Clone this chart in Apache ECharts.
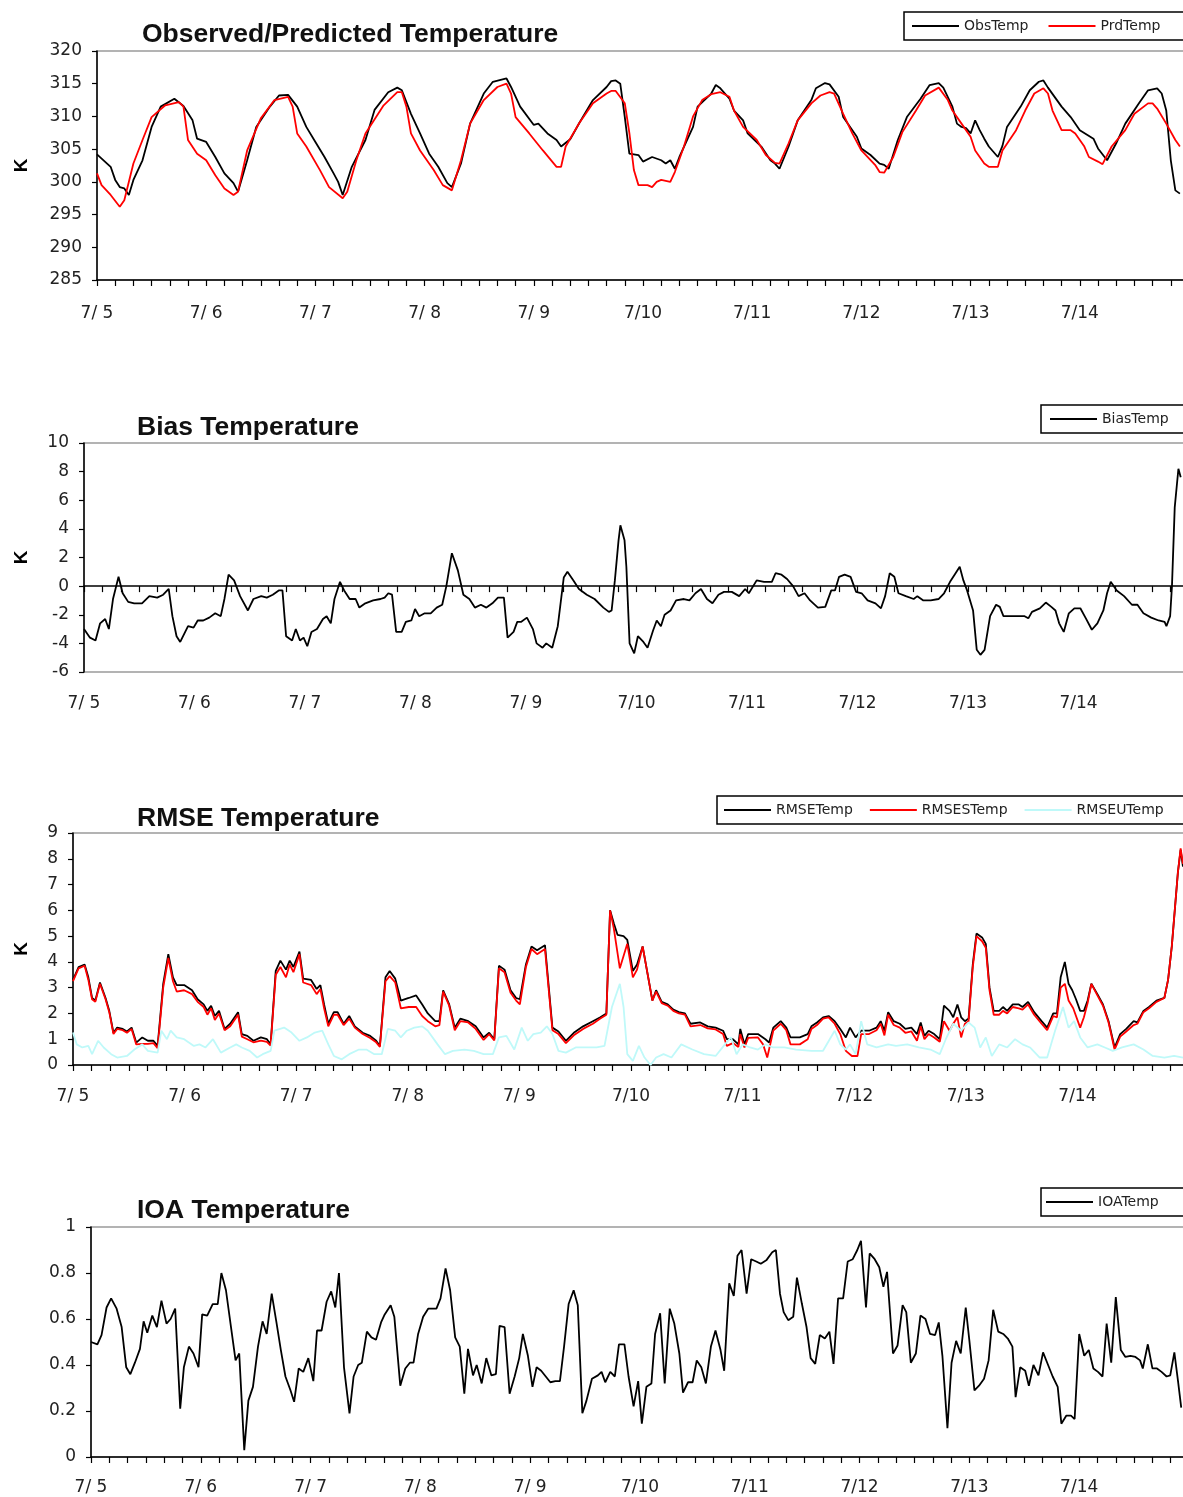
<!DOCTYPE html>
<html>
<head>
<meta charset="utf-8">
<title>Temperature evaluation</title>
<script src="https://cdn.jsdelivr.net/npm/echarts@6.0.0/dist/echarts.min.js"></script>
<style>
  html, body { margin: 0; padding: 0; background: #fff; overflow: hidden; }
  #chart { width: 1320px; height: 1497px; }
</style>
</head>
<body>
<div id="chart"></div>
<script>
// Day labels along the time axes (hours since 7/5 00:00, one label per 24 h)
const dayLabels = ['7/ 5', '7/ 6', '7/ 7', '7/ 8', '7/ 9', '7/10', '7/11', '7/12', '7/13', '7/14', '7/15'];

// Observed and predicted temperature [hour, K]
const obsTemp = [[0,304.2],[3,302.3],[4,300.3],[5,299.2],[6,299.0],[7,298.0],[8,300.3],[10,303.3],[12,308.4],[14,311.5],[17,312.7],[19,311.6],[21,309.4],[22,306.6],[24,306.1],[26,303.8],[28,301.3],[30,299.8],[31,298.5],[33,303.3],[35,308.4],[38,311.5],[40,313.2],[42,313.3],[44,311.5],[46,308.4],[48,306.1],[50,303.8],[52,301.3],[53,300.0],[54,298.0],[56,302.3],[59,306.4],[61,311.0],[64,313.7],[66,314.4],[67,314.0],[69,310.4],[71,307.4],[73,304.3],[75,302.3],[77,299.8],[78,299.2],[80,302.8],[82,308.9],[85,313.5],[87,315.3],[90,315.8],[91,314.5],[93,311.5],[96,308.7],[97,308.9],[99,307.4],[101,306.4],[102,305.4],[104,306.5],[106,309.0],[109,312.5],[112,314.5],[113,315.4],[114,315.5],[115,315.0],[116,309.9],[117,304.3],[119,304.1],[120,303.1],[122,303.8],[124,303.3],[125,302.8],[126,303.3],[127,302.0],[128,303.8],[131,308.4],[132,311.5],[135,313.5],[136,314.8],[137,314.3],[139,312.7],[140,310.9],[142,309.4],[143,307.4],[146,305.4],[148,303.3],[149,302.8],[150,302.0],[152,305.4],[154,309.4],[157,312.5],[158,314.3],[160,315.1],[161,314.9],[163,313.0],[164,309.9],[167,306.9],[168,305.1],[170,304.1],[172,302.8],[173,302.6],[174,302.0],[176,306.4],[178,309.9],[181,312.7],[183,314.8],[185,315.1],[186,314.4],[188,311.5],[189,308.9],[190,308.4],[191,308.2],[192,307.4],[193,309.4],[194,307.9],[195,306.6],[196,305.4],[197,304.6],[198,303.8],[199,305.5],[200,308.4],[203,311.5],[205,314.0],[207,315.3],[208,315.5],[209,314.4],[212,311.5],[214,309.9],[216,307.9],[219,306.6],[220,305.1],[222,303.3],[224,305.9],[226,308.9],[229,312.0],[231,314.0],[233,314.3],[234,313.5],[235,310.9],[236,303.3],[237,298.7],[238,298.2]];
const prdTemp = [[0,301.3],[1,299.5],[3,298.0],[5,296.2],[6,297.2],[8,302.8],[10,306.4],[12,309.9],[15,311.7],[18,312.2],[19,311.5],[20,306.4],[22,304.3],[24,303.3],[26,301.0],[28,299.0],[30,298.0],[31,298.5],[33,304.8],[36,309.7],[39,312.5],[42,313.0],[43,311.5],[44,307.4],[46,305.4],[49,301.8],[51,299.2],[54,297.5],[55,298.5],[57,303.3],[59,307.4],[63,311.7],[66,313.7],[67,313.7],[68,311.5],[69,307.4],[71,304.8],[74,301.8],[76,299.5],[78,298.7],[80,303.3],[82,308.9],[85,312.5],[88,314.5],[90,315.0],[91,313.5],[92,309.9],[95,307.4],[98,304.8],[101,302.3],[102,302.3],[103,305.4],[106,309.0],[109,312.0],[112,313.5],[113,313.9],[114,313.9],[116,312.0],[117,307.5],[118,301.8],[119,299.5],[120,299.5],[121,299.5],[122,299.2],[123,300.0],[124,300.3],[126,300.0],[127,301.5],[129,305.4],[131,310.0],[133,312.5],[135,313.4],[137,313.7],[139,313.0],[140,310.9],[142,308.4],[145,306.4],[147,304.1],[149,302.9],[150,302.8],[152,305.9],[154,309.4],[157,312.0],[159,313.2],[161,313.7],[162,313.5],[164,310.4],[166,307.4],[168,304.8],[171,302.6],[172,301.5],[173,301.4],[175,303.8],[177,307.6],[180,310.9],[182,313.2],[185,314.4],[187,312.5],[188,310.9],[190,308.9],[192,306.9],[193,304.8],[195,302.8],[196,302.3],[198,302.3],[199,304.8],[202,307.9],[204,310.9],[206,313.5],[208,314.3],[209,313.5],[210,310.9],[212,307.9],[214,307.9],[215,307.4],[217,305.4],[218,303.8],[220,303.1],[221,302.7],[223,305.4],[226,307.9],[228,310.4],[231,312.0],[232,312.0],[233,311.2],[235,308.9],[237,306.4],[238,305.4]];

// Bias [hour, K]
const biasTemp = [[0,-3.0],[1.3,-3.6],[2.5,-3.8],[3.5,-2.6],[4.6,-2.3],[5.4,-3.0],[6.3,-0.9],[7.5,0.65],[8.4,-0.5],[9.6,-1.1],[10.9,-1.2],[12.6,-1.2],[14.2,-0.7],[15.9,-0.8],[17.2,-0.6],[18.4,-0.2],[19.2,-2.1],[20.1,-3.5],[20.9,-3.9],[22.6,-2.8],[23.8,-2.9],[24.7,-2.4],[25.9,-2.4],[27.2,-2.2],[28.5,-1.9],[29.7,-2.1],[30.5,-0.9],[31.4,0.8],[32.6,0.4],[33.9,-0.7],[35.6,-1.7],[36.8,-0.9],[38.5,-0.7],[39.7,-0.8],[41,-0.6],[42.3,-0.3],[43.1,-0.3],[43.9,-3.5],[45.2,-3.8],[46,-3.0],[46.9,-3.8],[47.7,-3.6],[48.5,-4.2],[49.4,-3.2],[50.6,-3.0],[51.9,-2.3],[52.7,-2.1],[53.6,-2.6],[54.4,-0.9],[55.6,0.3],[56.5,-0.3],[57.7,-0.9],[59,-0.9],[59.8,-1.5],[61.1,-1.2],[62.8,-1.0],[64.4,-0.9],[65.3,-0.8],[66.1,-0.5],[66.9,-0.6],[67.8,-3.2],[69,-3.2],[69.9,-2.5],[71.1,-2.4],[71.9,-1.6],[72.8,-2.1],[74,-1.9],[75.3,-1.9],[76.6,-1.5],[77.8,-1.3],[78.7,0.0],[79.9,2.3],[81.2,1.1],[82.4,-0.6],[83.7,-0.9],[84.9,-1.5],[86.2,-1.3],[87.4,-1.5],[88.7,-1.2],[89.9,-0.8],[91.2,-0.8],[92,-3.6],[93.3,-3.2],[94.1,-2.5],[94.9,-2.5],[96.2,-2.2],[97.5,-3.0],[98.3,-4.0],[99.6,-4.3],[100.4,-4.0],[101.7,-4.3],[102.9,-2.8],[104.2,0.6],[105,1.0],[106.3,0.4],[107.5,-0.2],[109.2,-0.6],[110.9,-0.9],[112.8,-1.5],[114,-1.8],[114.6,-1.7],[115.3,0.4],[116.1,3.2],[116.5,4.25],[117.4,3.2],[117.8,1.35],[118.5,-4.0],[119.5,-4.7],[120.3,-3.5],[121.5,-3.9],[122.4,-4.3],[123.6,-3.1],[124.4,-2.4],[125.3,-2.8],[126.1,-2.0],[127.4,-1.7],[128.6,-1.0],[130.3,-0.9],[131.5,-1.0],[132.8,-0.5],[134,-0.2],[135.3,-0.9],[136.5,-1.2],[137.8,-0.6],[139,-0.4],[140.7,-0.4],[142.3,-0.7],[143.6,-0.2],[144.4,-0.5],[146.1,0.4],[147.7,0.3],[149.4,0.3],[150.2,0.9],[151.5,0.8],[152.7,0.5],[154,0.0],[155.2,-0.7],[156.5,-0.5],[157.7,-1.0],[159.4,-1.5],[161,-1.45],[162.3,-0.3],[163.1,-0.3],[164,0.65],[165.2,0.8],[166.5,0.65],[167.7,-0.4],[168.9,-0.5],[170.2,-1.0],[171.9,-1.2],[173.1,-1.55],[174,-0.7],[175,0.9],[176,0.65],[176.9,-0.5],[178.5,-0.7],[180.2,-0.9],[181,-0.7],[182.3,-1.0],[183.9,-1.0],[185.6,-0.9],[186.8,-0.5],[188.1,0.3],[189.3,0.9],[190.2,1.35],[191,0.4],[191.8,-0.3],[193.1,-1.7],[193.9,-4.45],[194.7,-4.8],[195.6,-4.45],[196.8,-2.1],[198.1,-1.3],[198.9,-1.45],[199.7,-2.1],[201,-2.1],[202.6,-2.1],[204.3,-2.1],[205.1,-2.25],[205.9,-1.8],[207.6,-1.55],[208.9,-1.15],[210.1,-1.45],[211,-1.7],[211.8,-2.6],[212.8,-3.2],[213.9,-1.9],[215.1,-1.55],[216.4,-1.55],[217.6,-2.25],[218.9,-3.05],[220.1,-2.6],[221.4,-1.7],[222.2,-0.5],[223,0.3],[224.3,-0.3],[225.9,-0.7],[227.6,-1.3],[228.8,-1.3],[230.1,-1.9],[231.8,-2.2],[233.4,-2.4],[234.7,-2.5],[235.1,-2.8],[235.9,-2.1],[236.3,0.0],[236.9,5.5],[237.7,8.2],[238.2,7.6]];

// RMSE, systematic and unsystematic RMSE [hour, K]
const rmseTemp = [[0,3.3],[1.2,3.8],[2.5,3.9],[3.3,3.4],[4.1,2.6],[4.8,2.5],[5.8,3.2],[7,2.6],[7.8,2.1],[8.7,1.25],[9.5,1.45],[10.7,1.4],[11.6,1.3],[12.6,1.45],[13.6,0.87],[14.9,1.07],[16.1,0.94],[17.3,0.94],[18.2,0.74],[19.4,3.15],[20.5,4.3],[21.5,3.4],[22.3,3.1],[23.9,3.1],[25.6,2.9],[26.8,2.55],[28.1,2.35],[28.9,2.1],[29.7,2.3],[30.5,1.9],[31.4,2.1],[32.6,1.4],[33.8,1.6],[35.5,2.05],[36.3,1.2],[37.5,1.13],[38.8,0.94],[40.4,1.07],[41.7,1.0],[42.5,0.8],[43.6,3.65],[44.6,4.05],[45.8,3.7],[46.6,4.05],[47.4,3.8],[48.7,4.4],[49.5,3.35],[51.2,3.3],[52.4,2.95],[53.2,3.1],[54,2.35],[54.9,1.6],[56.1,2.05],[56.9,2.05],[58.2,1.6],[59.4,1.9],[60.6,1.5],[62.3,1.25],[63.9,1.13],[65.2,0.94],[66,0.74],[67.2,3.4],[68.1,3.65],[69.3,3.35],[70.5,2.5],[72.2,2.6],[73.8,2.7],[75.1,2.35],[76.3,2.0],[77.9,1.7],[78.8,1.7],[79.6,2.9],[80.9,2.35],[82.1,1.45],[83.3,1.8],[85,1.7],[86.6,1.5],[88.3,1.07],[89.5,1.25],[90.6,1.0],[91.6,3.85],[92.8,3.7],[94.1,2.9],[95.3,2.6],[96.1,2.55],[97.4,3.9],[98.6,4.6],[99.8,4.45],[101.5,4.65],[103.1,1.45],[104.4,1.3],[106,0.94],[107.7,1.25],[109.7,1.5],[111.8,1.7],[113.4,1.85],[114.7,2.0],[115.5,6.0],[116.3,5.5],[117.1,5.05],[118.4,5.0],[119.2,4.85],[120.4,3.65],[121.3,3.9],[122.5,4.6],[123.7,3.4],[124.6,2.5],[125.4,2.9],[126.6,2.45],[127.9,2.35],[129.1,2.15],[130.3,2.05],[131.6,2.0],[132.8,1.6],[134.9,1.65],[136.5,1.5],[138.2,1.45],[139.8,1.33],[140.6,1.0],[141.9,1.0],[143.1,0.8],[143.5,1.4],[144.4,0.8],[145.2,1.2],[147.3,1.2],[148.9,1.0],[149.7,0.87],[150.6,1.45],[152.2,1.7],[153.4,1.45],[154.3,1.07],[156.3,1.07],[158,1.2],[158.8,1.5],[160,1.65],[161.3,1.85],[162.5,1.9],[163.8,1.7],[165,1.4],[166.2,1.07],[167.1,1.45],[168.3,1.07],[169.5,1.33],[171.2,1.33],[172.8,1.45],[173.7,1.7],[174.5,1.33],[175.3,2.05],[176.5,1.7],[177.8,1.6],[179,1.4],[180.3,1.45],[181.5,1.2],[182.3,1.65],[183.1,1.13],[184,1.33],[185.2,1.2],[186.4,1.0],[187.3,2.3],[188.5,2.1],[189.3,1.85],[190.2,2.35],[191,1.85],[191.8,1.7],[192.6,1.8],[193.5,3.9],[194.3,5.1],[195.5,4.95],[196.3,4.7],[197.1,3.0],[198,2.1],[199.2,2.1],[200,2.25],[200.9,2.1],[202.1,2.35],[203.4,2.35],[204.2,2.25],[205.4,2.45],[206.7,2.05],[208.3,1.7],[209.5,1.45],[210.8,2.0],[211.6,2.0],[212.4,3.4],[213.3,4.0],[214.1,3.15],[214.9,2.9],[215.7,2.55],[216.6,2.1],[217.4,2.1],[218.2,2.5],[219,3.15],[220.3,2.75],[221.5,2.35],[222.7,1.7],[224,0.68],[225.2,1.2],[226.5,1.4],[228.1,1.7],[228.9,1.65],[230.2,2.1],[231.4,2.25],[233,2.5],[234.7,2.6],[235.5,3.3],[236.3,4.6],[237.6,7.45],[238.2,8.35],[238.7,7.7]];
const rmsesTemp = [[0,3.25],[1.2,3.75],[2.5,3.85],[3.3,3.3],[4.1,2.55],[4.8,2.45],[5.8,3.15],[7,2.55],[7.8,2.05],[8.7,1.2],[9.5,1.4],[10.7,1.35],[11.6,1.25],[12.6,1.4],[13.6,0.8],[14.9,0.82],[16.1,0.82],[17.3,0.85],[18.2,0.65],[19.4,3.0],[20.5,4.15],[21.5,3.25],[22.3,2.85],[23.9,2.9],[25.6,2.75],[26.8,2.45],[28.1,2.25],[28.9,1.95],[29.7,2.2],[30.5,1.75],[31.4,2.0],[32.6,1.35],[33.8,1.5],[35.5,1.95],[36.3,1.1],[37.5,1.0],[38.8,0.88],[40.4,0.95],[41.7,0.9],[42.5,0.75],[43.6,3.5],[44.6,3.8],[45.8,3.4],[46.6,3.9],[47.4,3.6],[48.7,4.3],[49.5,3.2],[51.2,3.1],[52.4,2.75],[53.2,2.95],[54,2.2],[54.9,1.5],[56.1,1.95],[56.9,1.95],[58.2,1.55],[59.4,1.8],[60.6,1.45],[62.3,1.2],[63.9,1.05],[65.2,0.88],[66,0.7],[67.2,3.25],[68.1,3.45],[69.3,3.2],[70.5,2.2],[72.2,2.25],[73.8,2.25],[75.1,1.9],[76.3,1.7],[77.9,1.5],[78.8,1.55],[79.6,2.85],[80.9,2.3],[82.1,1.35],[83.3,1.7],[85,1.65],[86.6,1.4],[88.3,0.97],[89.5,1.2],[90.6,0.95],[91.6,3.75],[92.8,3.6],[94.1,2.8],[95.3,2.5],[96.1,2.35],[97.4,3.8],[98.6,4.5],[99.8,4.3],[101.5,4.5],[103.1,1.35],[104.4,1.2],[106,0.85],[107.7,1.15],[109.7,1.4],[111.8,1.6],[113.4,1.8],[114.7,1.95],[115.5,6.0],[116.3,5.3],[117.6,3.75],[119.2,4.7],[120.4,3.4],[121.3,3.7],[122.5,4.6],[123.7,3.4],[124.6,2.5],[125.4,2.85],[126.6,2.4],[127.9,2.3],[129.1,2.1],[130.3,2.0],[131.6,1.95],[132.8,1.5],[134.9,1.55],[136.5,1.42],[138.2,1.38],[139.8,1.2],[140.6,0.74],[141.9,0.85],[143.1,0.7],[143.5,1.2],[144.4,0.68],[145.2,1.05],[147.3,1.07],[148.4,0.8],[149.3,0.29],[150.6,1.33],[152.2,1.6],[153.4,1.35],[154.3,0.8],[156.3,0.8],[158,1.0],[158.8,1.4],[160,1.55],[161.3,1.8],[162.5,1.85],[163.8,1.6],[165,1.2],[166.2,0.55],[167.5,0.35],[168.7,0.35],[169.5,1.2],[171.2,1.2],[172.8,1.35],[173.7,1.6],[174.5,1.15],[175.3,1.95],[176.5,1.55],[177.8,1.45],[179,1.25],[180.3,1.3],[181.5,0.94],[182.3,1.5],[183.1,1.0],[184,1.2],[185.2,1.07],[186.4,0.9],[187.3,1.7],[188.5,1.33],[189.3,1.6],[190.2,1.85],[191,1.07],[191.8,1.6],[192.6,1.7],[193.5,3.8],[194.3,5.0],[195.5,4.8],[196.3,4.55],[197.1,2.9],[198,1.95],[199.2,1.95],[200,2.1],[200.9,2.0],[202.1,2.25],[203.4,2.2],[204.2,2.15],[205.4,2.35],[206.7,1.95],[208.3,1.6],[209.5,1.35],[210.8,1.9],[211.6,1.85],[212.4,3.0],[213.3,3.15],[214.1,2.5],[215.1,2.2],[216.6,1.45],[217.4,1.85],[218.2,2.4],[219,3.15],[220.3,2.7],[221.5,2.3],[222.7,1.65],[224,0.6],[225.2,1.1],[226.5,1.3],[228.1,1.55],[228.9,1.6],[230.2,2.05],[231.4,2.2],[233,2.45],[234.7,2.6],[235.5,3.3],[236.3,4.6],[237.6,7.45],[238.2,8.4],[238.7,7.8]];
const rmseuTemp = [[0,1.26],[0.8,0.8],[2,0.68],[3.3,0.74],[4.1,0.42],[5.4,0.94],[6.6,0.68],[8.2,0.42],[9.5,0.29],[11.6,0.35],[13.2,0.6],[14.9,0.8],[16.1,0.55],[18.2,0.48],[19,1.33],[20.2,1.0],[21,1.33],[22.3,1.07],[23.9,1.0],[26,0.74],[27.2,0.8],[28.5,0.68],[30.1,1.0],[31.8,0.48],[33.8,0.68],[35.1,0.8],[36.3,0.68],[38,0.55],[39.6,0.29],[40.8,0.42],[42.5,0.55],[43.3,1.33],[45.4,1.45],[47,1.26],[48.7,0.94],[50.3,1.07],[52,1.26],[53.6,1.33],[54.9,0.8],[56.1,0.35],[57.8,0.22],[59.4,0.42],[61.5,0.6],[63.1,0.6],[64.8,0.42],[66.4,0.42],[67.7,1.4],[69.3,1.33],[70.5,1.07],[71.8,1.33],[73.4,1.45],[75.1,1.5],[76.3,1.33],[78.4,0.8],[80,0.42],[81.7,0.55],[84.2,0.6],[86.2,0.55],[88.3,0.42],[90.3,0.42],[91.6,1.07],[93.2,1.13],[94.9,0.6],[96.5,1.45],[97.8,0.94],[99,1.2],[100.6,1.26],[101.9,1.5],[103.1,1.2],[104.4,0.55],[106,0.48],[108.1,0.68],[110.6,0.68],[112.6,0.68],[114.3,0.74],[115.9,2.25],[117.6,3.15],[118.4,2.25],[119.2,0.42],[120.4,0.16],[121.7,0.74],[122.9,0.29],[124.2,0.0],[125.4,0.29],[127,0.42],[128.7,0.29],[130.8,0.8],[133.2,0.6],[135.7,0.42],[138.2,0.35],[140.2,0.8],[141.5,1.07],[142.7,0.42],[144,0.8],[145.6,0.68],[147.3,0.6],[148.9,0.8],[150.6,0.68],[153,0.68],[155.5,0.6],[158.8,0.55],[161.3,0.55],[163.8,1.33],[165,0.8],[166.2,0.6],[167.1,0.8],[168.3,0.42],[169.5,1.7],[170.8,0.8],[172.8,0.68],[175.3,0.8],[177,0.74],[179.4,0.8],[181.9,0.68],[184.4,0.6],[186.4,0.42],[187.7,1.0],[189.3,1.6],[191,1.33],[192.6,1.65],[193.9,1.45],[195.1,0.68],[196.3,1.07],[197.6,0.35],[199.2,0.8],[200.9,0.68],[202.6,1.0],[204.2,0.8],[205.8,0.68],[207.9,0.29],[209.5,0.29],[211.2,1.33],[212.9,2.25],[214.1,1.45],[215.3,1.7],[216.6,1.07],[218.2,0.68],[220.3,0.8],[221.9,0.68],[223.6,0.55],[225.6,0.68],[228.1,0.8],[230.2,0.6],[232.2,0.35],[234.7,0.29],[236.8,0.35],[238.7,0.29]];

// Index of agreement [hour, dimensionless]
const ioaTemp = [[0,0.5],[1.4,0.49],[2.3,0.53],[3.4,0.65],[4.4,0.69],[5.6,0.645],[6.7,0.565],[7.7,0.39],[8.6,0.36],[9.6,0.41],[10.7,0.47],[11.5,0.59],[12.3,0.54],[13.4,0.615],[14.4,0.565],[15.4,0.68],[16.5,0.58],[17.4,0.6],[18.4,0.645],[19.5,0.21],[20.3,0.39],[21.4,0.48],[22.4,0.45],[23.5,0.39],[24.3,0.62],[25.4,0.615],[26.6,0.665],[27.7,0.665],[28.5,0.8],[29.5,0.725],[30.6,0.565],[31.6,0.42],[32.4,0.45],[33.5,0.03],[34.4,0.245],[35.4,0.305],[36.5,0.48],[37.5,0.59],[38.4,0.535],[39.5,0.71],[40.5,0.59],[41.5,0.465],[42.5,0.35],[43.6,0.29],[44.4,0.24],[45.4,0.385],[46.4,0.37],[47.5,0.43],[48.6,0.33],[49.4,0.55],[50.4,0.55],[51.5,0.675],[52.5,0.72],[53.4,0.65],[54.2,0.8],[55.3,0.39],[56.5,0.19],[57.4,0.35],[58.4,0.4],[59.2,0.41],[60.3,0.545],[61.3,0.52],[62.3,0.51],[63.4,0.585],[64.2,0.62],[65.5,0.66],[66.3,0.61],[67.6,0.31],[68.7,0.385],[69.7,0.41],[70.5,0.41],[71.5,0.535],[72.6,0.61],[73.7,0.645],[74.7,0.645],[75.5,0.645],[76.4,0.69],[77.5,0.82],[78.5,0.725],[79.6,0.52],[80.6,0.48],[81.6,0.275],[82.4,0.47],[83.5,0.355],[84.3,0.4],[85.4,0.32],[86.4,0.43],[87.5,0.355],[88.5,0.36],[89.3,0.57],[90.4,0.565],[91.5,0.275],[92.6,0.35],[93.6,0.43],[94.4,0.535],[95.5,0.44],[96.5,0.305],[97.4,0.39],[98.4,0.375],[99.4,0.35],[100.4,0.325],[101.5,0.33],[102.5,0.33],[103.4,0.48],[104.4,0.665],[105.5,0.725],[106.4,0.66],[107.4,0.19],[108.3,0.245],[109.5,0.34],[110.8,0.355],[111.6,0.37],[112.4,0.325],[113.5,0.37],[114.5,0.35],[115.4,0.49],[116.6,0.49],[117.5,0.35],[118.6,0.22],[119.6,0.33],[120.4,0.145],[121.4,0.305],[122.5,0.32],[123.3,0.535],[124.4,0.625],[125.4,0.32],[126.5,0.645],[127.5,0.58],[128.6,0.45],[129.4,0.28],[130.5,0.325],[131.5,0.325],[132.4,0.42],[133.4,0.39],[134.4,0.32],[135.5,0.48],[136.5,0.55],[137.6,0.465],[138.4,0.375],[139.5,0.755],[140.5,0.7],[141.3,0.875],[142.2,0.9],[143.3,0.71],[144.3,0.86],[145.4,0.85],[146.4,0.84],[147.6,0.855],[148.9,0.89],[149.7,0.9],[150.6,0.71],[151.4,0.63],[152.4,0.595],[153.5,0.61],[154.3,0.78],[155.4,0.665],[156.4,0.565],[157.3,0.43],[158.3,0.405],[159.3,0.53],[160.4,0.515],[161.4,0.545],[162.3,0.405],[163.3,0.69],[164.4,0.69],[165.4,0.85],[166.5,0.86],[167.5,0.9],[168.3,0.94],[169.4,0.65],[170.2,0.885],[171.3,0.86],[172.3,0.825],[173.2,0.74],[174,0.805],[175.3,0.45],[176.3,0.485],[177.4,0.66],[178.2,0.63],[179.2,0.41],[180.3,0.45],[181.3,0.615],[182.4,0.6],[183.4,0.535],[184.5,0.53],[185.3,0.585],[186.1,0.44],[187.2,0.125],[188.1,0.41],[189.1,0.505],[190.1,0.45],[191.2,0.65],[192,0.505],[193.1,0.29],[194.1,0.31],[195.2,0.34],[196.2,0.42],[197.2,0.64],[198.3,0.545],[199.4,0.535],[200.4,0.515],[201.4,0.48],[202.1,0.26],[203.1,0.39],[204.2,0.375],[205,0.31],[206,0.4],[207.1,0.355],[208.1,0.455],[209.2,0.4],[210.2,0.35],[211.3,0.305],[212.1,0.145],[213.2,0.18],[214.2,0.18],[215,0.165],[216,0.535],[217.1,0.44],[218.1,0.465],[219.1,0.385],[220.1,0.37],[221.1,0.35],[222,0.58],[223,0.41],[224,0.695],[225.1,0.465],[226.1,0.435],[227.2,0.44],[228.3,0.435],[229.3,0.42],[229.9,0.385],[231,0.49],[232,0.385],[233,0.385],[234,0.37],[235.1,0.35],[235.9,0.355],[236.8,0.455],[237.6,0.33],[238.3,0.215]];

// ---------------------------------------------------------------------------
const LABEL_FONT = 'DejaVu Sans';
const TITLE_FONT = '"Liberation Sans", Arial, sans-serif';
const HOURS_END = 240;
const PLOT_RIGHT = 1189;

// Panel geometry (pixels)
const panels = [
  { left: 97, top: 51, bottom: 280, labelMargin: 25, titleLeft: 142, titleTop: 21, legendLeft: 904, legendTop: 12,
    title: 'Observed/Predicted Temperature', y: { min: 285, max: 320, interval: 5 }, unit: 'K' },
  { left: 84, top: 443, bottom: 672, labelMargin: 23, titleLeft: 137, titleTop: 414, legendLeft: 1041, legendTop: 405,
    title: 'Bias Temperature', y: { min: -6, max: 10, interval: 2 }, unit: 'K' },
  { left: 73, top: 833, bottom: 1065, labelMargin: 23, titleLeft: 137, titleTop: 805, legendLeft: 717, legendTop: 796,
    title: 'RMSE Temperature', y: { min: 0, max: 9, interval: 1 }, unit: 'K' },
  { left: 91, top: 1227, bottom: 1457, labelMargin: 22, titleLeft: 137, titleTop: 1197, legendLeft: 1041, legendTop: 1188,
    title: 'IOA Temperature', y: { min: 0, max: 1, interval: 0.2 }, unit: '' }
];

const black = '#000000';
const tickStyle = { color: black, width: 1.2 };

function timeAxis(gridIndex, withLine, withLabels, onZero) {
  return {
    type: 'value', gridIndex, position: 'bottom', offset: 0,
    min: 0, max: HOURS_END, interval: 24,
    axisLine: { show: withLine, onZero: !!onZero, lineStyle: { color: black, width: 1.5 } },
    axisTick: { show: withLine, length: 6, lineStyle: tickStyle },
    minorTick: { show: withLine, splitNumber: 6, length: 6, lineStyle: tickStyle },
    splitLine: { show: false }, minorSplitLine: { show: false },
    axisLabel: {
      show: withLabels, margin: panels[gridIndex].labelMargin,
      fontFamily: LABEL_FONT, fontSize: 17, color: '#222',
      showMaxLabel: false, showMinLabel: true, hideOverlap: false,
      formatter: v => dayLabels[Math.round(v / 24)]
    }
  };
}

const grid = panels.map(p => ({
  left: p.left, top: p.top, width: PLOT_RIGHT - p.left, height: p.bottom - p.top,
  show: true, borderColor: '#9a9a9a', borderWidth: 1.5, backgroundColor: 'transparent',
  containLabel: false, outerBoundsMode: 'none'
}));

const xAxis = [
  timeAxis(0, true, true, false),
  timeAxis(1, true, false, true),   // crosses at zero
  timeAxis(1, false, true, false),  // labels along the bottom edge
  timeAxis(2, true, true, false),
  timeAxis(3, true, true, false)
];

const yAxis = panels.map((p, i) => ({
  type: 'value', gridIndex: i, position: 'left', min: p.y.min, max: p.y.max, interval: p.y.interval,
  name: p.unit, nameLocation: 'middle', nameGap: p.left - 31, nameRotate: 90,
  nameTextStyle: { fontFamily: TITLE_FONT, fontWeight: 'bold', fontSize: 19, color: black },
  axisLine: { show: true, onZero: false, lineStyle: { color: black, width: 1.5 } },
  axisTick: { show: true, inside: false, length: 5, lineStyle: tickStyle },
  splitLine: { show: false },
  axisLabel: { margin: 15, fontFamily: LABEL_FONT, fontSize: 17, color: '#222', hideOverlap: false }
}));

const title = panels.map(p => ({
  text: p.title, left: p.titleLeft, top: p.titleTop, padding: 0,
  textStyle: { fontFamily: TITLE_FONT, fontSize: 26.5, fontWeight: 'bold', color: '#111' }
}));

function legendFor(i, names, gap, padLeft) {
  return {
    show: true, data: names, left: panels[i].legendLeft, top: panels[i].legendTop,
    width: 600, orient: 'horizontal', icon: 'rect', itemWidth: 47, itemHeight: 2, itemGap: gap,
    padding: [7, 60, 7, padLeft], borderColor: black, borderWidth: 1.5, backgroundColor: '#fff',
    selectedMode: false,
    textStyle: { fontFamily: LABEL_FONT, fontSize: 14, color: '#222' }
  };
}

const legend = [
  legendFor(0, ['ObsTemp', 'PrdTemp'], 20, 8),
  legendFor(1, ['BiasTemp'], 20, 9),
  legendFor(2, ['RMSETemp', 'RMSESTemp', 'RMSEUTemp'], 17, 7),
  legendFor(3, ['IOATemp'], 20, 5)
];

function line(name, data, xi, yi, color, width) {
  return {
    name, type: 'line', data, xAxisIndex: xi, yAxisIndex: yi,
    showSymbol: false, symbol: 'none', smooth: false, silent: true,
    lineStyle: { color, width }, itemStyle: { color }, emphasis: { disabled: true }
  };
}

const series = [
  line('ObsTemp', obsTemp, 0, 0, black, 1.8),
  line('PrdTemp', prdTemp, 0, 0, '#ff0000', 1.8),
  line('BiasTemp', biasTemp, 1, 1, black, 1.8),
  line('RMSETemp', rmseTemp, 3, 2, black, 1.8),
  line('RMSESTemp', rmsesTemp, 3, 2, '#ff0000', 1.8),
  line('RMSEUTemp', rmseuTemp, 3, 2, '#bff9f9', 1.8),
  line('IOATemp', ioaTemp, 4, 3, black, 1.8)
];

const chart = echarts.init(document.getElementById('chart'), null, { renderer: 'canvas' });
chart.setOption({
  animation: false,
  backgroundColor: '#ffffff',
  title, legend, grid, xAxis, yAxis, series
});
</script>
</body>
</html>
